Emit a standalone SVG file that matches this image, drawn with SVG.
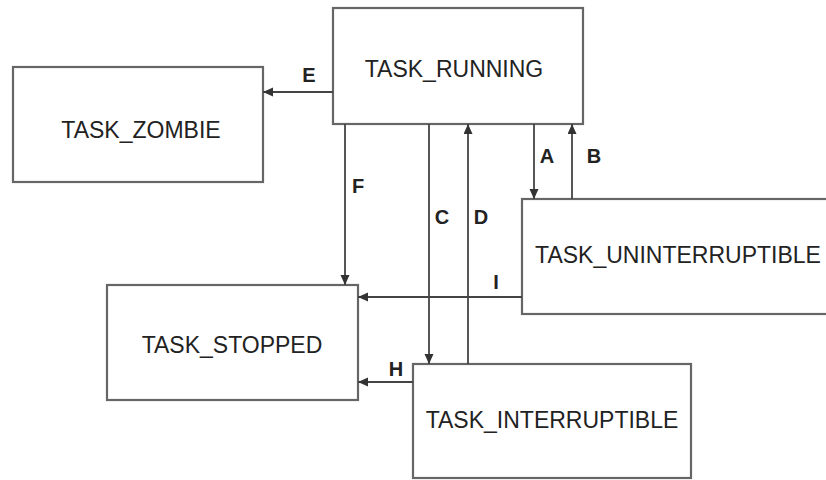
<svg xmlns="http://www.w3.org/2000/svg" width="826" height="480" viewBox="0 0 826 480">
<defs>
<marker id="arr" markerUnits="userSpaceOnUse" markerWidth="12" markerHeight="10" refX="10" refY="4.5" orient="auto">
<path d="M0,0 L10,4.5 L0,9 Z" fill="#333"/>
</marker>
<style>
.box{fill:#fff;stroke:#666;stroke-width:2.2}
.name{font-family:"Liberation Sans",Arial,sans-serif;font-size:23px;fill:#222;text-anchor:middle}
.lbl{font-family:"Liberation Sans",Arial,sans-serif;font-size:20px;font-weight:bold;fill:#222;text-anchor:middle}
.conn line{stroke:#444;stroke-width:1.8;fill:none;marker-end:url(#arr)}
</style>
</defs>
<rect width="826" height="480" fill="#fff"/>
<g id="running"><rect class="box" x="333" y="8" width="250" height="116"/><text class="name" x="454" y="77">TASK_RUNNING</text></g>
<g id="zombie"><rect class="box" x="13" y="67" width="250" height="115"/><text class="name" x="141" y="138">TASK_ZOMBIE</text></g>
<g id="uninterruptible"><rect class="box" x="522" y="199" width="320" height="115"/><text class="name" x="678" y="263">TASK_UNINTERRUPTIBLE</text></g>
<g id="stopped"><rect class="box" x="107" y="285" width="251" height="115"/><text class="name" x="232" y="353">TASK_STOPPED</text></g>
<g id="interruptible"><rect class="box" x="413" y="364" width="278" height="114"/><text class="name" x="552" y="428">TASK_INTERRUPTIBLE</text></g>
<g id="connectors" class="conn">
<line x1="333" y1="92" x2="263" y2="92"/>
<line x1="345" y1="124" x2="345" y2="285"/>
<line x1="429" y1="124" x2="429" y2="364"/>
<line x1="468" y1="364" x2="468" y2="124"/>
<line x1="534" y1="124" x2="534" y2="199"/>
<line x1="572" y1="199" x2="572" y2="124"/>
<line x1="522" y1="297" x2="358" y2="297"/>
<line x1="413" y1="382" x2="358" y2="382"/>
</g>
<g id="labels">
<text class="lbl" x="309" y="82">E</text>
<text class="lbl" x="358" y="193">F</text>
<text class="lbl" x="442" y="224">C</text>
<text class="lbl" x="481" y="224">D</text>
<text class="lbl" x="547" y="163">A</text>
<text class="lbl" x="594" y="163">B</text>
<text class="lbl" x="496" y="289">I</text>
<text class="lbl" x="396" y="376">H</text>
</g>
</svg>
